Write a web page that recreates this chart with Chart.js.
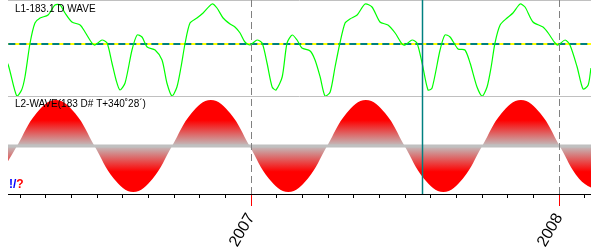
<!DOCTYPE html>
<html>
<head>
<meta charset="utf-8">
<script src="https://cdn.jsdelivr.net/npm/chart.js@4.4.0/dist/chart.umd.min.js"></script>
<style>
    body { margin: 0; background: #fff; }
    #wrapper { width: 591px; height: 252px; position: relative; }
</style>
</head>
<body>
<div id="wrapper"><canvas id="grafico"></canvas></div>
<script>
"use strict"

// asse x in mesi a partire da gen 2006 (12 = 2007, 24 = 2008)
const xMin = 2.53;
const xMax = 25.24;
const tickMonths = [3, 4, 5, 6, 7, 8, 9, 10, 11, 12, 13, 14, 15, 16, 17, 18, 19, 20, 21, 22, 23, 24, 25];
const yearMonths = [12, 24];
const yearNames = ["2007", "2008"];
const cursorMonth = 18.66;

// L1 - onda 183.1 giorni (pannello alto)
const waveMonths = [2.33, 2.54, 2.87, 3.06, 3.19, 3.39, 3.58, 3.78, 4.09, 4.36, 4.56, 4.75, 5.02, 5.34, 5.53, 5.80, 5.92,
    6.19, 6.39, 6.58, 6.74, 6.89, 7.09, 7.36, 7.56, 7.75, 7.95, 8.26, 8.53, 8.72, 8.92, 9.11, 9.27, 9.43, 9.62, 9.89,
    10.13, 10.48, 10.67, 10.91, 11.18, 11.37, 11.57, 11.76, 11.96, 12.23, 12.43, 12.62, 12.82, 12.97, 13.21, 13.40,
    13.60, 13.79, 13.98, 14.30, 14.49, 14.69, 14.88, 15.08, 15.27, 15.46, 15.66, 15.85, 16.13, 16.44, 16.71, 17.02,
    17.33, 17.61, 17.88, 18.00, 18.27, 18.46, 18.66, 18.89, 19.05, 19.36, 19.55, 19.75, 20.06, 20.33, 20.53, 20.80,
    21.00, 21.19, 21.35, 21.50, 21.70, 21.97, 22.20, 22.48, 22.67, 22.98, 23.37, 23.57, 23.84, 23.96, 24.23, 24.42,
    24.70, 24.93, 25.13, 25.24, 25.44];
const waveValues = [-11, -21, -52, -46, -33, 1, 21, 26, 29, 39, 39, 31, 22, 19, 12, 1, -1,
    4, 1, -19, -36, -46, -39, -6, 9, 7, -3, -6, -16, -39, -52, -43, -23, 1, 21, 26,
    31, 40, 36, 26, 20, 17, 11, 2, -1, 4, 1, -19, -43, -46, -33, 1,
    9, 4, -4, -7, -16, -33, -52, -48, -23, 1, 21, 25, 29, 40, 37, 22,
    19, 11, 0, -1, 4, 1, -19, -46, -44, -6, 9, 7, -5, -6, -19, -43,
    -52, -43, -23, 1, 19, 26, 31, 40, 37, 22, 17, 11, 1, -1, 4, -1,
    -23, -45, -41, -24, 1];
const waveLevel = 0;
const panelSplit = -52;

// L2 - onda sinusoidale 183 giorni (pannello basso)
const sineMonths = [2.125, 2.88, 3.635, 4.39, 5.145, 5.90, 6.655, 7.41, 8.165, 8.92, 9.675, 10.43, 11.185, 11.94,
    12.695, 13.45, 14.205, 14.96, 15.715, 16.47, 17.225, 17.98, 18.735, 19.49, 20.245, 21.0, 21.755, 22.51,
    23.265, 24.02, 24.775, 25.53];
const sineValues = [-0.71, 0, 0.71, 1, 0.71, 0, -0.71, -1, -0.71, 0, 0.71, 1, 0.71, 0,
    -0.71, -1, -0.71, 0, 0.71, 1, 0.71, 0, -0.71, -1, -0.71, 0, 0.71, 1,
    0.71, 0, -0.71, -1];

const font = "'Liberation Sans', Arial, sans-serif";

function punti(xs, ys) {
    return xs.map((v, i) => ({ x: v, y: ys[i] }));
}

function sfumatura(context) {
    let chart = context.chart;
    let y2 = chart.scales.y2;
    if (!chart.chartArea || !y2) return "rgba(255,0,0,0.8)";
    let top = y2.getPixelForValue(1);
    let bot = y2.getPixelForValue(-1);
    let g = chart.ctx.createLinearGradient(0, top, 0, bot);
    g.addColorStop(0, "#ff0000");
    g.addColorStop(0.22, "#ff0000");
    g.addColorStop(0.5, "#c0c0c0");
    g.addColorStop(0.78, "#ff0000");
    g.addColorStop(1, "#ff0000");
    return g;
}

let decorazioni = {
    id: "decorazioni",
    afterDatasetsDraw(chart) {
        let ctx = chart.ctx;
        let area = chart.chartArea;
        let x = chart.scales.x;
        let y1 = chart.scales.y1;
        ctx.save();

        // bordi dei pannelli
        ctx.strokeStyle = "#c0c0c0";
        ctx.lineWidth = 1;
        ctx.beginPath();
        ctx.moveTo(area.left, area.top + 0.5);
        ctx.lineTo(area.right, area.top + 0.5);
        let sep = Math.round(y1.getPixelForValue(panelSplit)) + 0.5;
        ctx.moveTo(area.left, sep);
        ctx.lineTo(area.right, sep);
        ctx.stroke();

        // linee degli anni
        for (const m of yearMonths) {
            let px = Math.round(x.getPixelForValue(m)) + 0.5;
            ctx.strokeStyle = "#808080";
            ctx.setLineDash([7, 4]);
            ctx.beginPath();
            ctx.moveTo(px, area.top);
            ctx.lineTo(px, area.bottom);
            ctx.stroke();
            ctx.setLineDash([]);
            ctx.strokeStyle = "#ff0000";
            ctx.beginPath();
            ctx.moveTo(px, area.bottom + 1);
            ctx.lineTo(px, area.bottom + 12);
            ctx.stroke();
        }

        // cursore
        let cx = Math.round(x.getPixelForValue(cursorMonth)) + 0.5;
        ctx.strokeStyle = "#008080";
        ctx.lineWidth = 1.5;
        ctx.beginPath();
        ctx.moveTo(cx, area.top);
        ctx.lineTo(cx, area.bottom);
        ctx.stroke();

        // testi
        ctx.font = "10px " + font;
        ctx.fillStyle = "#000";
        ctx.textBaseline = "middle";
        ctx.fillText("L1-183.1 D WAVE", 15, 9);
        ctx.fillText("L2-WAVE(183 D# T+340˚28´)", 15, 104);
        ctx.font = "bold 12px " + font;
        ctx.fillStyle = "#0000ff";
        ctx.fillText("!/", 9, 185);
        let w = ctx.measureText("!/").width;
        ctx.fillStyle = "#ff0000";
        ctx.fillText("?", 9 + w, 185);
        ctx.restore();
    }
};

window.onload = function () {
    let canvas = document.getElementById("grafico");

    new Chart(canvas, {
        type: "line",
        data: {
            datasets: [{
                label: "L1",
                data: punti(waveMonths, waveValues),
                yAxisID: "y1",
                borderColor: "#00ff00",
                borderWidth: 1.2,
                tension: 0.25,
                pointRadius: 0
            }, {
                label: "livello giallo",
                data: punti([xMin - 1, xMax + 1], [waveLevel, waveLevel]),
                yAxisID: "y1",
                borderColor: "#ffff00",
                borderWidth: 2,
                borderDash: [4, 7],
                pointRadius: 0
            }, {
                label: "livello",
                data: punti([xMin - 1, xMax + 1], [waveLevel, waveLevel]),
                yAxisID: "y1",
                borderColor: "#008080",
                borderWidth: 2,
                pointRadius: 0
            }, {
                label: "zero",
                data: punti([xMin - 1, xMax + 1], [0, 0]),
                yAxisID: "y2",
                borderColor: "#c0c0c0",
                borderWidth: 3,
                pointRadius: 0
            }, {
                label: "L2",
                data: punti(sineMonths, sineValues),
                yAxisID: "y2",
                borderWidth: 0,
                borderColor: "rgba(0,0,0,0)",
                backgroundColor: sfumatura,
                fill: "origin",
                tension: 0.4,
                pointRadius: 0
            }]
        },
        options: {
            responsive: true,
            maintainAspectRatio: false,
            animation: false,
            events: [],
            layout: { padding: { left: 8, right: 0, top: 0, bottom: 0 } },
            plugins: {
                legend: { display: false },
                tooltip: { enabled: false }
            },
            scales: {
                x: {
                    type: "linear",
                    min: xMin,
                    max: xMax,
                    border: { color: "#000", width: 1 },
                    grid: {
                        drawOnChartArea: false,
                        tickLength: 4,
                        color: "#000",
                        tickColor: (c) => yearMonths.includes(c.tick && c.tick.value) ? "#ff0000" : "#000"
                    },
                    ticks: {
                        autoSkip: false,
                        minRotation: 60,
                        maxRotation: 60,
                        padding: 12,
                        color: "#000",
                        font: { family: font, size: 16 },
                        callback: function (v) {
                            let i = yearMonths.indexOf(v);
                            return i >= 0 ? yearNames[i] : "";
                        }
                    },
                    afterBuildTicks: function (s) {
                        s.ticks = tickMonths.map(v => ({ value: v }));
                    },
                    afterFit: function (s) {
                        s.height = 58;
                        s.paddingLeft = 0;
                        s.paddingRight = 0;
                    }
                },
                y1: {
                    display: false,
                    min: -150,
                    max: 44
                },
                y2: {
                    display: false,
                    min: -1.0435,
                    max: 3.1739
                }
            }
        },
        plugins: [decorazioni]
    });
}
</script>
</body>
</html>
